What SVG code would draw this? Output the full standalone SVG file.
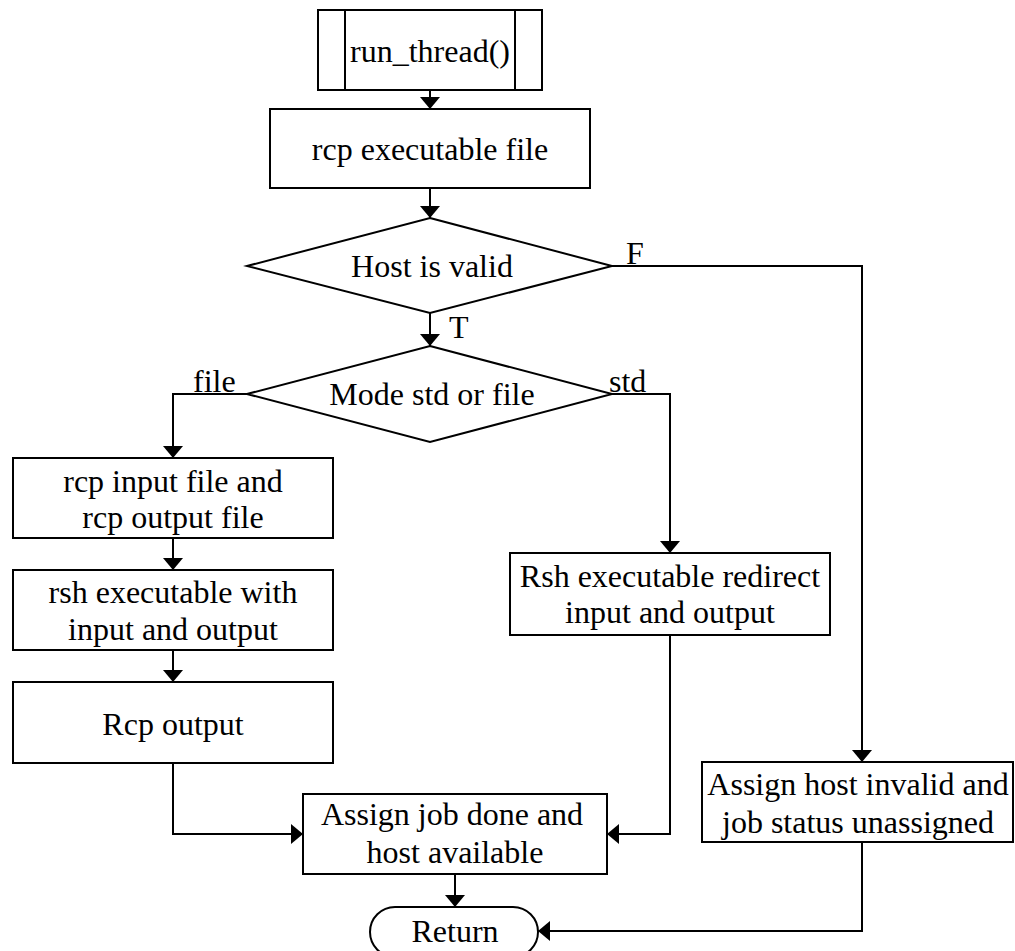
<svg xmlns="http://www.w3.org/2000/svg" width="1015" height="951" viewBox="0 0 1015 951">
<style>
.box{fill:#fff;stroke:#000;stroke-width:2}
.ln{fill:none;stroke:#000;stroke-width:2}
text{font-family:"Liberation Serif","Times New Roman",serif;font-size:32px;fill:#000}
.c{text-anchor:middle}
</style>
<defs>
<marker id="ah" viewBox="0 0 12 20" refX="12" refY="10" markerWidth="12" markerHeight="20" markerUnits="userSpaceOnUse" orient="auto">
<path d="M0,0 L12,10 L0,20 z" fill="#000"/>
</marker>
</defs>
<rect width="1015" height="951" fill="#fff"/>
<g id="connectors" class="ln" marker-end="url(#ah)">
<path d="M430,90 V109" marker-end="url(#ah)"/>
<path d="M430,188 V218" marker-end="url(#ah)"/>
<path d="M612,266 H862 V762" marker-end="url(#ah)"/>
<path d="M430,313 V346" marker-end="url(#ah)"/>
<path d="M247,394 H173 V458" marker-end="url(#ah)"/>
<path d="M612,394 H670 V553" marker-end="url(#ah)"/>
<path d="M173,538 V570" marker-end="url(#ah)"/>
<path d="M173,650 V682" marker-end="url(#ah)"/>
<path d="M173,763 V834 H303" marker-end="url(#ah)"/>
<path d="M670,635 V834 H607" marker-end="url(#ah)"/>
<path d="M455,874 V907" marker-end="url(#ah)"/>
<path d="M862,842 V931 H538" marker-end="url(#ah)"/>
</g>
<g id="labels">
<text x="626" y="264">F</text>
<text x="449" y="338">T</text>
<text x="193" y="392">file</text>
<text x="609" y="392">std</text>
</g>
<g id="run_thread">
<rect class="box" x="318" y="10" width="224" height="80"/>
<line class="ln" x1="345" y1="10" x2="345" y2="90"/>
<line class="ln" x1="515" y1="10" x2="515" y2="90"/>
<text class="c" x="430" y="62">run_thread()</text>
</g>
<g id="rcp_exec">
<rect class="box" x="270" y="109" width="320" height="79"/>
<text class="c" x="430" y="160">rcp executable file</text>
</g>
<g id="host_valid">
<polygon class="box" points="430,218 612,266 430,313 247,266"/>
<text class="c" x="432" y="277">Host is valid</text>
</g>
<g id="mode">
<polygon class="box" points="430,346 612,394 430,442 247,394"/>
<text class="c" x="432" y="405">Mode std or file</text>
</g>
<g id="rcp_input">
<rect class="box" x="13" y="458" width="320" height="80"/>
<text class="c" x="173" y="492">rcp input file and</text>
<text class="c" x="173" y="528">rcp output file</text>
</g>
<g id="rsh_exec">
<rect class="box" x="13" y="570" width="320" height="80"/>
<text class="c" x="173" y="603">rsh executable with</text>
<text class="c" x="173" y="640">input and output</text>
</g>
<g id="rcp_output">
<rect class="box" x="13" y="682" width="320" height="81"/>
<text class="c" x="173" y="735">Rcp output</text>
</g>
<g id="rsh_redirect">
<rect class="box" x="510" y="553" width="320" height="82"/>
<text class="c" x="670" y="587">Rsh executable redirect</text>
<text class="c" x="670" y="623">input and output</text>
</g>
<g id="assign_done">
<rect class="box" x="303" y="794" width="304" height="80"/>
<text class="c" x="452" y="825">Assign job done and</text>
<text class="c" x="455" y="863">host available</text>
</g>
<g id="assign_invalid">
<rect class="box" x="702" y="762" width="311" height="80"/>
<text class="c" x="858" y="795">Assign host invalid and</text>
<text class="c" x="858" y="833">job status unassigned</text>
</g>
<g id="return">
<rect class="box" x="370" y="907" width="168" height="50" rx="25" ry="25"/>
<text class="c" x="455" y="942">Return</text>
</g>
</svg>
